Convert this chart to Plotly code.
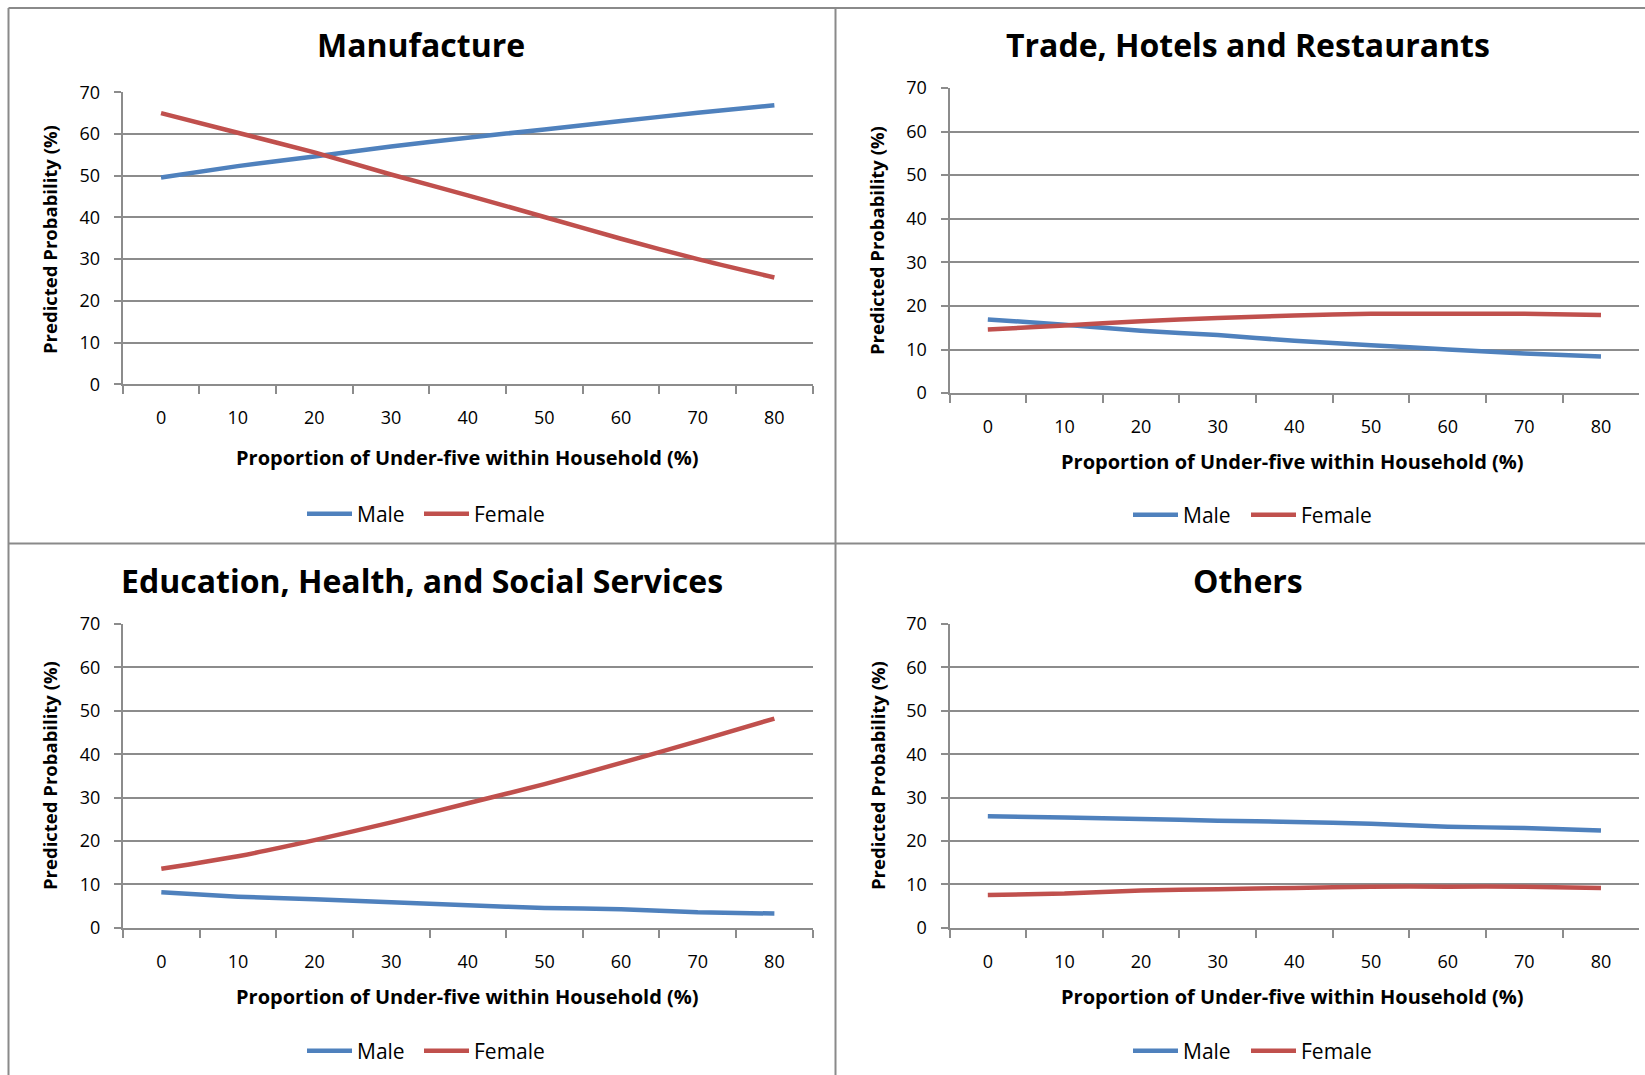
import plotly.graph_objects as go

W, H = 1645, 1075

x_labels = ["0", "10", "20", "30", "40", "50", "60", "70", "80"]
y_ticks = [0, 10, 20, 30, 40, 50, 60, 70]

panel_titles = ["Manufacture", "Trade, Hotels and Restaurants",
                "Education, Health, and Social Services", "Others"]

manufacture_male = [49.6, 52.3, 54.6, 57.0, 59.1, 61.1, 63.1, 65.1, 66.9]
manufacture_female = [65.0, 60.3, 55.6, 50.3, 45.3, 40.1, 34.9, 30.0, 25.6]

trade_male = [16.9, 15.7, 14.3, 13.3, 12.0, 11.0, 10.0, 9.1, 8.4]
trade_female = [14.6, 15.5, 16.5, 17.2, 17.8, 18.2, 18.2, 18.2, 17.9]

education_male = [8.2, 7.2, 6.6, 5.9, 5.2, 4.6, 4.3, 3.6, 3.3]
education_female = [13.6, 16.5, 20.2, 24.3, 28.7, 33.1, 38.0, 43.0, 48.2]

others_male = [25.7, 25.4, 25.1, 24.7, 24.4, 24.0, 23.3, 23.0, 22.4]
others_female = [7.6, 7.9, 8.6, 8.9, 9.2, 9.5, 9.5, 9.5, 9.2]

series_names = ["Male", "Female"]
series_colors = ["#4F81BD", "#C0504D"]

x_title = "Proportion of Under-five within Household (%)"
y_title = "Predicted Probability (%)"

data = [
    (manufacture_male, manufacture_female),
    (trade_male, trade_female),
    (education_male, education_female),
    (others_male, others_female),
]

# plot area boxes in pixels: (left, right, top, bottom)
boxes = [
    (122.7, 812.7, 92.3, 384.3),
    (949.5, 1639.3, 87.9, 393.1),
    (123.0, 812.7, 623.9, 927.9),
    (949.5, 1639.3, 623.9, 927.9),
]
title_pos = [(421, 45), (1248, 44), (422, 580), (1248, 580)]
ytitle_pos = [(49, 240), (877, 241), (49, 776), (877, 776)]
xtitle_pos = [(467, 457), (1292, 461), (467, 996), (1292, 996)]
# legend entry positions (left x of each entry, centre y) per panel
legend_x = [(307, 424), (1133, 1251), (307, 424), (1133, 1251)]
legend_y = [514, 515, 1051, 1051]

FONT = "Open Sans, Arial, sans-serif"
GRID = "#8c8c8c"

fig = go.Figure()
annotations = []
layout = {}

for i, (male, female) in enumerate(data):
    n = i + 1
    xa = "x" if n == 1 else f"x{n}"
    ya = "y" if n == 1 else f"y{n}"
    for j, (vals, name, col) in enumerate(zip((male, female), series_names, series_colors)):
        k = 2 * i + j + 1
        lg = "legend" if k == 1 else f"legend{k}"
        fig.add_trace(go.Scatter(
            x=x_labels, y=vals, name=name, mode="lines", showlegend=True,
            line=dict(color=col, width=4.5, shape="spline", smoothing=0.6),
            xaxis=xa, yaxis=ya, legend=lg, hoverinfo="x+y+name",
        ))
        layout[lg] = dict(
            x=(legend_x[i][j] - 5) / W, y=1 - legend_y[i] / H,
            xanchor="left", yanchor="middle",
            orientation="h", font=dict(family=FONT, size=21, color="#000"),
            itemwidth=45, bgcolor="rgba(0,0,0,0)", borderwidth=0,
        )
    l, r, t, b = boxes[i]
    xkey = "xaxis" if n == 1 else f"xaxis{n}"
    ykey = "yaxis" if n == 1 else f"yaxis{n}"
    layout[xkey] = dict(
        domain=[l / W, r / W], anchor=ya, type="category",
        categoryorder="array", categoryarray=x_labels,
        range=[-0.5, len(x_labels) - 0.5], automargin=False,
        tickson="boundaries", ticks="outside", ticklen=8, tickwidth=1.5,
        tickcolor=GRID, showline=True, linecolor=GRID, linewidth=2,
        showgrid=False, zeroline=False,
        tickfont=dict(family=FONT, size=18, color="#000"),
        ticklabelstandoff=16, fixedrange=True,
    )
    layout[ykey] = dict(
        domain=[1 - b / H, 1 - t / H], anchor=xa, automargin=False,
        range=[0, 70], tickvals=y_ticks, ticks="outside", ticklen=7,
        tickwidth=1.5, tickcolor=GRID, showline=True, linecolor=GRID,
        linewidth=2, showgrid=True, gridcolor=GRID, gridwidth=1.5,
        zeroline=False, tickfont=dict(family=FONT, size=18, color="#000"),
        ticklabelstandoff=10, fixedrange=True,
    )
    tx, ty = title_pos[i]
    annotations.append(dict(
        text=f"<b>{panel_titles[i]}</b>", x=tx / W, y=1 - ty / H,
        xref="paper", yref="paper", showarrow=False,
        xanchor="center", yanchor="middle",
        font=dict(family=FONT, size=32, color="#000"),
    ))
    yx, yy = ytitle_pos[i]
    annotations.append(dict(
        text=f"<b>{y_title}</b>", x=yx / W, y=1 - yy / H,
        xref="paper", yref="paper", showarrow=False, textangle=-90,
        xanchor="center", yanchor="middle",
        font=dict(family=FONT, size=18.5, color="#000"),
    ))
    xx, xy = xtitle_pos[i]
    annotations.append(dict(
        text=f"<b>{x_title}</b>", x=xx / W, y=1 - xy / H,
        xref="paper", yref="paper", showarrow=False,
        xanchor="center", yanchor="middle",
        font=dict(family=FONT, size=20, color="#000"),
    ))

BORDER = "#8a8a8a"
shapes = [
    dict(type="line", xref="paper", yref="paper", x0=8.5 / W, x1=1.0,
         y0=1 - 8 / H, y1=1 - 8 / H, line=dict(color=BORDER, width=2)),
    dict(type="line", xref="paper", yref="paper", x0=8.5 / W, x1=8.5 / W,
         y0=0, y1=1 - 8 / H, line=dict(color=BORDER, width=2)),
    dict(type="line", xref="paper", yref="paper", x0=835.5 / W, x1=835.5 / W,
         y0=0, y1=1 - 8 / H, line=dict(color=BORDER, width=2)),
    dict(type="line", xref="paper", yref="paper", x0=8.5 / W, x1=1.0,
         y0=1 - 543.5 / H, y1=1 - 543.5 / H, line=dict(color=BORDER, width=2)),
]

fig.update_layout(
    width=W, height=H, showlegend=True,
    margin=dict(l=0, r=0, t=0, b=0, autoexpand=False),
    paper_bgcolor="white", plot_bgcolor="white",
    font=dict(family=FONT, color="#000"),
    annotations=annotations, shapes=shapes, **layout,
)

fig.write_html("out.html", config={"displayModeBar": False})
